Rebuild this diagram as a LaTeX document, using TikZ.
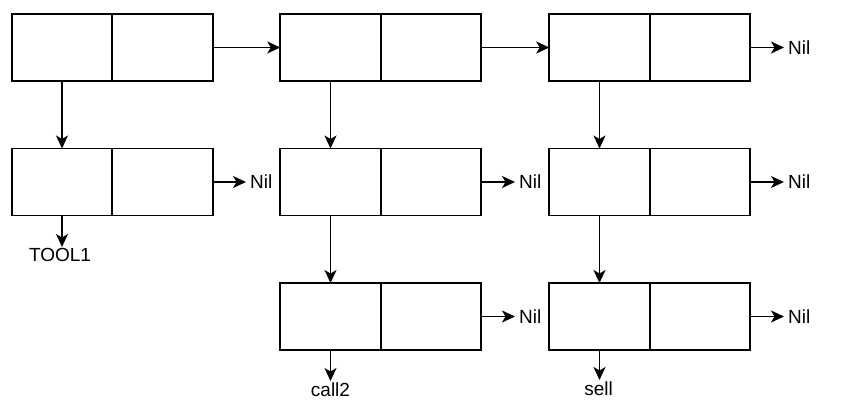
\documentclass[tikz,border=0pt]{standalone}
\usepackage{fontspec}
\setmainfont{Liberation Sans}
\usetikzlibrary{arrows.meta}
\begin{document}
\begin{tikzpicture}[x=1pt,y=-1pt,
  cell/.style={draw, line width=1.7pt, minimum width=100.5pt, minimum height=67pt, outer sep=0pt, inner sep=0pt},
  lbl/.style={inner sep=1.5pt, font=\fontsize{19}{21}\selectfont},
  conn/.style={line width=1.7pt, -{Stealth[length=13pt,width=12pt,inset=3.5pt]}}]
\useasboundingbox (0,0) rectangle (844,416);
% row 1
\node[cell] (a1l) at (62,47.5) {};
\node[cell] (a1r) at (162.5,47.5) {};
\node[cell] (b1l) at (330.5,47.5) {};
\node[cell] (b1r) at (431,47.5) {};
\node[cell] (c1l) at (599.5,47.5) {};
\node[cell] (c1r) at (700,47.5) {};
% row 2
\node[cell] (a2l) at (62,182) {};
\node[cell] (a2r) at (162.5,182) {};
\node[cell] (b2l) at (330.5,182) {};
\node[cell] (b2r) at (431,182) {};
\node[cell] (c2l) at (599.5,182) {};
\node[cell] (c2r) at (700,182) {};
% row 3
\node[cell] (b3l) at (330.5,316.5) {};
\node[cell] (b3r) at (431,316.5) {};
\node[cell] (c3l) at (599.5,316.5) {};
\node[cell] (c3r) at (700,316.5) {};
% labels
\node[lbl, anchor=west, inner sep=4pt] (n1c) at (784,47.5) {Nil};
\node[lbl, anchor=west, inner sep=4pt] (n2a) at (246,182) {Nil};
\node[lbl, anchor=west, inner sep=4pt] (n2b) at (515,182) {Nil};
\node[lbl, anchor=west, inner sep=4pt] (n2c) at (784,182) {Nil};
\node[lbl, anchor=west, inner sep=4pt] (n3b) at (515,316.5) {Nil};
\node[lbl, anchor=west, inner sep=4pt] (n3c) at (784,316.5) {Nil};
\node[lbl, anchor=north] (tool) at (60,247) {TOOL1};
\node[lbl, anchor=north] (call) at (330.5,381) {call2};
\node[lbl, anchor=north] (sell) at (598.5,380) {sell};
% connectors
\draw[conn] (a1r.east) -- (b1l.west);
\draw[conn] (b1r.east) -- (c1l.west);
\draw[conn] (c1r.east) -- (n1c.west);
\draw[conn] (a2r.east) -- (n2a.west);
\draw[conn] (b2r.east) -- (n2b.west);
\draw[conn] (c2r.east) -- (n2c.west);
\draw[conn] (b3r.east) -- (n3b.west);
\draw[conn] (c3r.east) -- (n3c.west);
\draw[conn] (a1l.south) -- (a2l.north);
\draw[conn] (b1l.south) -- (b2l.north);
\draw[conn] (c1l.south) -- (c2l.north);
\draw[conn] (b2l.south) -- (b3l.north);
\draw[conn] (c2l.south) -- (c3l.north);
\draw[conn] (a2l.south) -- (a2l.south |- tool.north);
\draw[conn] (b3l.south) -- (call.north);
\draw[conn] (c3l.south) -- (c3l.south |- sell.north);
\end{tikzpicture}
\end{document}
